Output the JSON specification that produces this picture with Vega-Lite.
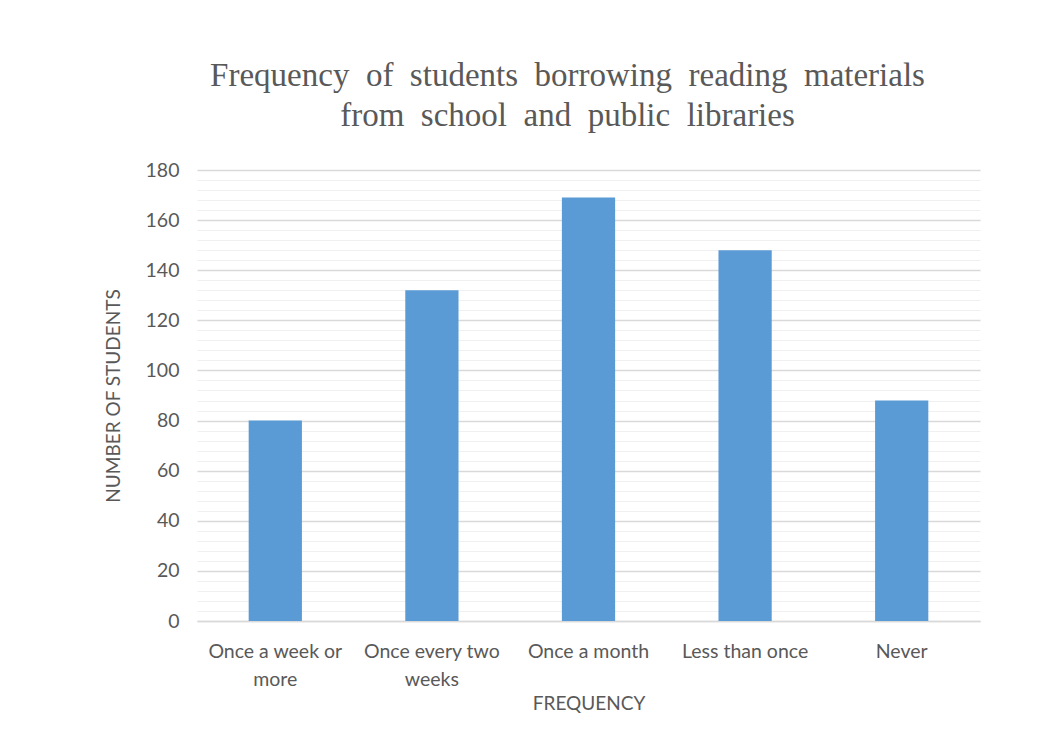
{
  "$schema": "https://vega.github.io/schema/vega-lite/v6.json",
  "width": 783,
  "height": 451,
  "autosize": {"type": "none"},
  "padding": {"left": 197, "top": 170, "right": 71, "bottom": 133},
  "background": "white",
  "title": {
    "text": ["Frequency\u00a0 of\u00a0 students\u00a0 borrowing\u00a0 reading\u00a0 materials", "from\u00a0 school\u00a0 and\u00a0 public\u00a0 libraries"],
    "font": "Liberation Serif",
    "fontSize": 33,
    "fontWeight": "normal",
    "color": "#595959",
    "lineHeight": 40,
    "anchor": "middle",
    "frame": "group",
    "dx": -21,
    "offset": 27
  },
  "data": {
    "values": [
      {"frequency": "Once a week or more", "students": 80},
      {"frequency": "Once every two weeks", "students": 132},
      {"frequency": "Once a month", "students": 169},
      {"frequency": "Less than once", "students": 148},
      {"frequency": "Never", "students": 88}
    ]
  },
  "mark": {"type": "bar", "color": "#5b9bd5"},
  "encoding": {
    "x": {
      "field": "frequency",
      "type": "nominal",
      "sort": null,
      "scale": {"paddingInner": 0.66, "paddingOuter": 0.33},
      "axis": {
        "title": "FREQUENCY",
        "titleFont": "Lato",
        "titleFontSize": 19,
        "titleFontWeight": "normal",
        "titleColor": "#595959",
        "titlePadding": 6,
        "labelAngle": 0,
        "labelFont": "Lato",
        "labelFontSize": 19.5,
        "labelColor": "#595959",
        "labelPadding": 21,
        "labelLineHeight": 28,
        "labelLimit": 0,
        "labelExpr": "datum.value == 'Once a week or more' ? ['Once a week or', 'more'] : datum.value == 'Once every two weeks' ? ['Once every two', 'weeks'] : datum.value",
        "ticks": false,
        "domainColor": "#d9d9d9",
        "domainWidth": 1.5
      }
    },
    "y": {
      "field": "students",
      "type": "quantitative",
      "scale": {"domain": [0, 180], "nice": false},
      "axis": {
        "title": "NUMBER OF STUDENTS",
        "titleFont": "Lato",
        "titleFontSize": 19,
        "titleFontWeight": "normal",
        "titleColor": "#595959",
        "titlePadding": 22,
        "values": [0, 4, 8, 12, 16, 20, 24, 28, 32, 36, 40, 44, 48, 52, 56, 60, 64, 68, 72, 76, 80, 84, 88, 92, 96, 100, 104, 108, 112, 116, 120, 124, 128, 132, 136, 140, 144, 148, 152, 156, 160, 164, 168, 172, 176, 180],
        "labelExpr": "datum.value % 20 === 0 ? datum.label : ''",
        "labelFont": "Lato",
        "labelFontSize": 19.5,
        "labelColor": "#595959",
        "labelPadding": 18,
        "ticks": false,
        "domain": false,
        "gridColor": {"condition": {"test": "datum.value % 20 === 0", "value": "#d9d9d9"}, "value": "#f0f0f0"},
        "gridWidth": {"condition": {"test": "datum.value % 20 === 0", "value": 1.5}, "value": 1}
      }
    }
  },
  "config": {"view": {"stroke": null}}
}
